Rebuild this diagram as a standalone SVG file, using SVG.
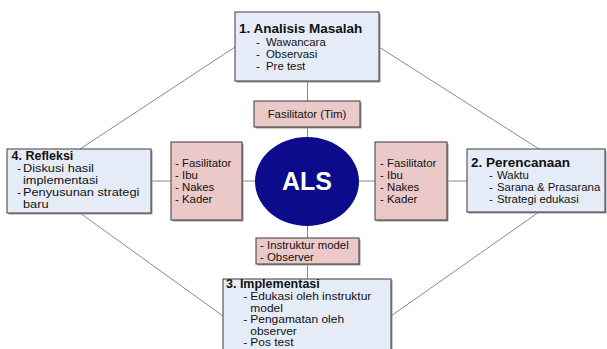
<svg xmlns="http://www.w3.org/2000/svg" width="607" height="349" viewBox="0 0 607 349">
  <style>
    .stage { fill: #e6ecf7; stroke: #3a3a3a; stroke-width: 1; }
    .role { fill: #ecc9c9; stroke: #3a3a3a; stroke-width: 1; }
    .shadow { fill: #9a9a9a; }
    .link { stroke: #8a8a8a; stroke-width: 1; fill: none; }
    text { font-family: "Liberation Sans", Arial, sans-serif; fill: #111; }
    .title { font-weight: bold; font-size: 13.5px; }
    .item { font-size: 11.4px; }
    .core { font-weight: bold; font-size: 25px; fill: #ffffff; }
  </style>

  <!-- connectors -->
  <g id="connectors">
    <line class="link" x1="235" y1="47" x2="80" y2="149"/>
    <line class="link" x1="379" y1="47" x2="539" y2="149"/>
    <line class="link" x1="80" y1="213" x2="223" y2="316"/>
    <line class="link" x1="539" y1="212" x2="391" y2="316"/>
    <line class="link" x1="307.5" y1="81" x2="307.5" y2="279"/>
    <line class="link" x1="151" y1="181" x2="467" y2="181"/>
  </g>

  <!-- stage 1 -->
  <g id="analisis">
    <rect class="shadow" x="236.5" y="13.5" width="144" height="69"/>
    <rect class="stage" x="235" y="12" width="144" height="69"/>
    <text class="title" x="239" y="33">1. Analisis Masalah</text>
    <text class="item" x="256" y="45.5">-</text><text class="item" x="266" y="45.5">Wawancara</text>
    <text class="item" x="256" y="57.5">-</text><text class="item" x="266" y="57.5">Observasi</text>
    <text class="item" x="256" y="69.5">-</text><text class="item" x="266" y="69.5">Pre test</text>
  </g>

  <!-- stage 2 -->
  <g id="perencanaan">
    <rect class="shadow" x="468.5" y="150.5" width="138" height="63"/>
    <rect class="stage" x="467" y="149" width="138" height="63"/>
    <text class="title" x="471" y="167">2. Perencanaan</text>
    <text class="item" x="489" y="179">-</text><text class="item" x="497" y="179">Waktu</text>
    <text class="item" x="489" y="191">-</text><text class="item" x="497" y="191">Sarana &amp; Prasarana</text>
    <text class="item" x="489" y="203">-</text><text class="item" x="497" y="203">Strategi edukasi</text>
  </g>

  <!-- stage 3 -->
  <g id="implementasi">
    <rect class="shadow" x="224.5" y="280.5" width="168" height="80"/>
    <rect class="stage" x="223" y="279" width="168" height="80"/>
    <text class="title" x="226" y="288" style="font-size:12.5px">3. Implementasi</text>
    <g transform="translate(223 0) scale(1.07 1) translate(-223 0)">
      <text class="item" x="242" y="300.5" style="font-size:11.2px">-</text><text class="item" x="248.5" y="300.5" style="font-size:11.2px">Edukasi oleh instruktur</text>
      <text class="item" x="248.5" y="312" style="font-size:11.2px">model</text>
      <text class="item" x="242" y="323.5" style="font-size:11.2px">-</text><text class="item" x="248.5" y="323.5" style="font-size:11.2px">Pengamatan oleh</text>
      <text class="item" x="248.5" y="335" style="font-size:11.2px">observer</text>
      <text class="item" x="242" y="346.5" style="font-size:11.2px">-</text><text class="item" x="248.5" y="346.5" style="font-size:11.2px">Pos test</text>
    </g>
  </g>

  <!-- stage 4 -->
  <g id="refleksi">
    <rect class="shadow" x="8.5" y="150.5" width="144" height="64"/>
    <rect class="stage" x="7" y="149" width="144" height="64"/>
    <text class="title" x="11.5" y="160" style="font-size:12.5px">4. Refleksi</text>
    <g transform="translate(7 0) scale(1.12 1) translate(-7 0)">
      <text class="item" x="16" y="172">-</text><text class="item" x="21.3" y="172">Diskusi hasil</text>
      <text class="item" x="21.3" y="184">implementasi</text>
      <text class="item" x="16" y="196">-</text><text class="item" x="21.3" y="196">Penyusunan strategi</text>
      <text class="item" x="21.3" y="208">baru</text>
    </g>
  </g>

  <!-- roles -->
  <g id="fasilitator-tim">
    <rect class="shadow" x="255.5" y="102.5" width="106" height="26"/>
    <rect class="role" x="254" y="101" width="106" height="26"/>
    <text class="item" x="307" y="118" text-anchor="middle">Fasilitator (Tim)</text>
  </g>

  <g id="peserta-kiri">
    <rect class="shadow" x="172.5" y="143.5" width="71" height="78"/>
    <rect class="role" x="171" y="142" width="71" height="78"/>
    <text class="item" x="175" y="167">-</text><text class="item" x="182" y="167">Fasilitator</text>
    <text class="item" x="175" y="179">-</text><text class="item" x="182" y="179">Ibu</text>
    <text class="item" x="175" y="191">-</text><text class="item" x="182" y="191">Nakes</text>
    <text class="item" x="175" y="203">-</text><text class="item" x="182" y="203">Kader</text>
  </g>

  <g id="peserta-kanan">
    <rect class="shadow" x="376.5" y="143.5" width="72" height="78"/>
    <rect class="role" x="375" y="142" width="72" height="78"/>
    <text class="item" x="380" y="167">-</text><text class="item" x="387" y="167">Fasilitator</text>
    <text class="item" x="380" y="179">-</text><text class="item" x="387" y="179">Ibu</text>
    <text class="item" x="380" y="191">-</text><text class="item" x="387" y="191">Nakes</text>
    <text class="item" x="380" y="203">-</text><text class="item" x="387" y="203">Kader</text>
  </g>

  <g id="pelaksana">
    <rect class="shadow" x="257.5" y="239.5" width="103" height="26"/>
    <rect class="role" x="256" y="238" width="103" height="26"/>
    <text class="item" x="260" y="249">-</text><text class="item" x="267" y="249">Instruktur model</text>
    <text class="item" x="260" y="261">-</text><text class="item" x="267" y="261">Observer</text>
  </g>

  <!-- core -->
  <g id="als">
    <ellipse cx="307" cy="181.5" rx="52" ry="44.5" fill="#0b0b8c"/>
    <text class="core" x="307" y="190" text-anchor="middle">ALS</text>
  </g>
</svg>
